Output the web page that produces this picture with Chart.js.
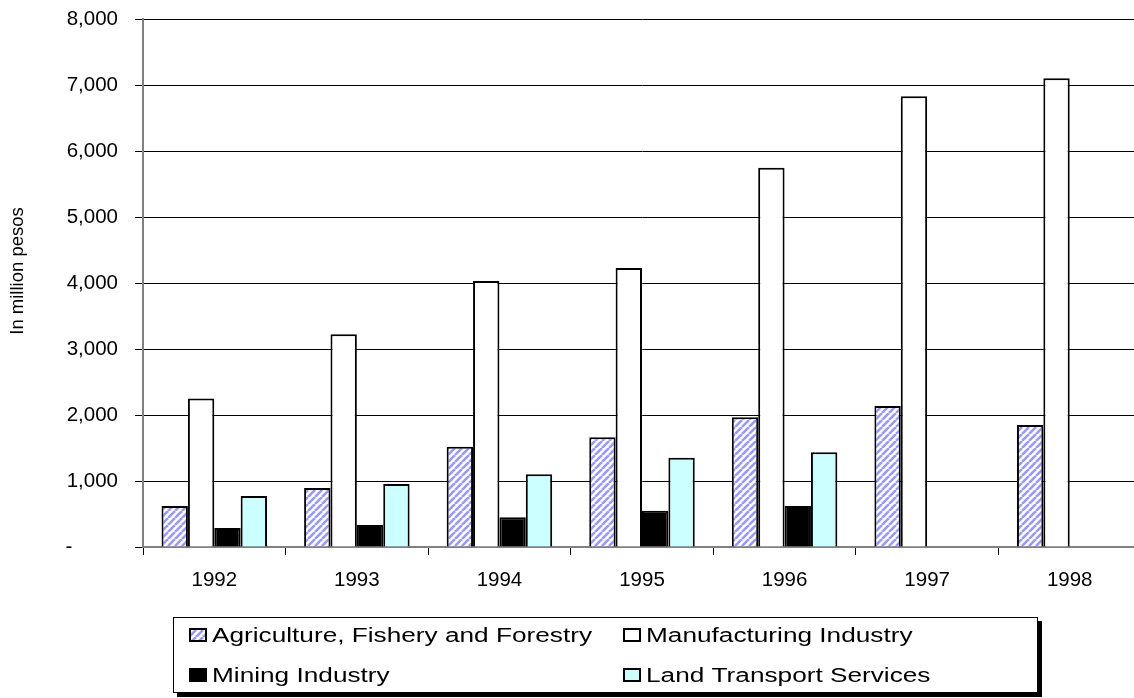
<!DOCTYPE html>
<html>
<head>
<meta charset="utf-8">
<script src="https://cdn.jsdelivr.net/npm/chart.js@4.4.1/dist/chart.umd.min.js"></script>
<style>
  html, body { margin: 0; padding: 0; background: #fff; overflow: hidden; }
  #wrap { width: 1141px; height: 698px; }
</style>
</head>
<body>
<div id="wrap"><canvas id="c" width="1141" height="698"></canvas></div>
<script>
const categories = ['1992', '1993', '1994', '1995', '1996', '1997', '1998'];
const seriesNames = ['Agriculture, Fishery and Forestry', 'Manufacturing Industry', 'Mining Industry', 'Land Transport Services'];
const agriculture = [621, 894, 1520, 1662, 1965, 2136, 1848];
const manufacturing = [2250, 3222, 4030, 4227, 5745, 6829, 7101];
const mining = [288, 333, 450, 550, 621, null, null];
const landTransport = [773, 955, 1101, 1354, 1435, null, null];
const yTicks = [0, 1000, 2000, 3000, 4000, 5000, 6000, 7000, 8000];
const yTitle = 'In million pesos';

function makeHatch() {
  const s = 7;
  const c = document.createElement('canvas');
  c.width = s; c.height = s;
  const g = c.getContext('2d');
  g.fillStyle = '#ffffff';
  g.fillRect(0, 0, s, s);
  g.strokeStyle = '#9a9af4';
  g.lineWidth = 2.6;
  for (let k = -1; k <= 1; k++) {
    g.beginPath();
    g.moveTo(k * s, s);
    g.lineTo(k * s + s, 0);
    g.stroke();
  }
  return document.getElementById('c').getContext('2d').createPattern(c, 'repeat');
}
const hatch = makeHatch();

const FONT = "'Liberation Sans', Arial, sans-serif";

const extrasPlugin = {
  id: 'extras',
  afterDraw(chart) {
    const ctx = chart.ctx;
    ctx.save();
    ctx.translate(18, 271);
    ctx.rotate(-Math.PI / 2);
    ctx.font = '18.5px ' + FONT;
    ctx.fillStyle = '#000';
    ctx.textAlign = 'center';
    ctx.textBaseline = 'middle';
    ctx.fillText(yTitle, 0, 0);
    ctx.restore();

    ctx.save();
    const bx = 173, by = 617, bw = 865, bh = 76;
    ctx.fillStyle = '#000';
    ctx.fillRect(bx + bw, by + 4, 4, bh);
    ctx.fillRect(bx + 4, by + bh, bw, 4);
    ctx.fillStyle = '#fff';
    ctx.fillRect(bx, by, bw, bh);
    ctx.strokeStyle = '#000';
    ctx.lineWidth = 1;
    ctx.strokeRect(bx + 0.5, by + 0.5, bw - 1, bh - 1);
    const cols = [189, 623];
    const rows = [635, 675];
    ctx.textBaseline = 'middle';
    ctx.textAlign = 'left';
    chart.data.datasets.forEach((ds, i) => {
      const x = cols[i % 2], y = rows[Math.floor(i / 2)];
      ctx.fillStyle = ds.backgroundColor;
      ctx.fillRect(x, y - 7, 18, 14);
      ctx.strokeStyle = '#000';
      ctx.lineWidth = 2;
      ctx.strokeRect(x + 1, y - 6, 16, 12);
      ctx.fillStyle = '#000';
      ctx.save();
      ctx.translate(x + 23, y + 1);
      ctx.scale(1.31, 1);
      ctx.font = '20px ' + FONT;
      ctx.fillText(ds.label, 0, 0);
      ctx.restore();
    });
    ctx.restore();
  }
};

new Chart(document.getElementById('c'), {
  type: 'bar',
  data: {
    labels: categories,
    datasets: [
      { label: seriesNames[0], data: agriculture, backgroundColor: hatch, borderColor: '#000', borderWidth: 2 },
      { label: seriesNames[1], data: manufacturing, backgroundColor: '#ffffff', borderColor: '#000', borderWidth: 2 },
      { label: seriesNames[2], data: mining, backgroundColor: '#000000', borderColor: '#000', borderWidth: 2 },
      { label: seriesNames[3], data: landTransport, backgroundColor: '#ccffff', borderColor: '#000', borderWidth: 2 }
    ]
  },
  options: {
    responsive: false,
    animation: false,
    devicePixelRatio: 1,
    layout: { padding: { top: 19, right: 0, bottom: 0, left: 0 } },
    datasets: { bar: { categoryPercentage: 0.74, barPercentage: 1.0 } },
    plugins: { legend: { display: false }, tooltip: { enabled: false } },
    scales: {
      x: {
        offset: true,
        grid: { offset: true, drawOnChartArea: false, drawTicks: true, tickLength: 8, color: '#000', lineWidth: 1 },
        border: { display: true, color: '#808080', width: 2 },
        ticks: { color: '#000', font: { family: FONT, size: 20.5 }, padding: 13, maxRotation: 0 },
        afterFit(scale) { scale.height = 151; scale.paddingLeft = 0; scale.paddingRight = 0; }
      },
      y: {
        min: 0, max: 8000,
        afterBuildTicks(scale) { scale.ticks = yTicks.map(v => ({ value: v })); },
        grid: { color: '#000', lineWidth: 1, drawTicks: true, tickLength: 8, tickColor: '#000' },
        border: { display: true, color: '#808080', width: 2 },
        ticks: {
          color: '#000', font: { family: FONT, size: 20.5 }, padding: 17,
          callback: v => v === 0 ? '-        ' : v.toLocaleString('en-US')
        },
        title: { display: false },
        afterFit(scale) { scale.width = 143; scale.paddingTop = 0; scale.paddingBottom = 0; }
      }
    }
  },
  plugins: [extrasPlugin]
});
</script>
</body>
</html>
